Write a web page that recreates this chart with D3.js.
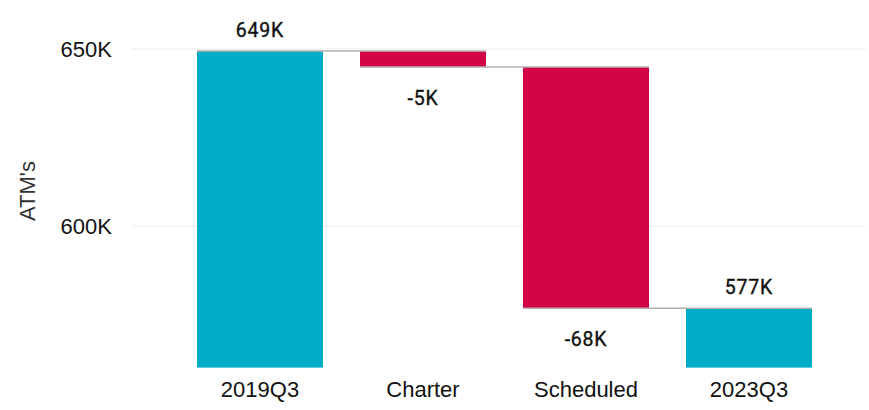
<!DOCTYPE html>
<html><head><meta charset="utf-8">
<script src="https://cdn.jsdelivr.net/npm/d3@7"></script>
<style>body{margin:0;background:#fff}svg{display:block}</style>
</head><body>
<svg id="c" width="869" height="410"></svg>
<script>
const categories = ["2019Q3", "Charter", "Scheduled", "2023Q3"];
const changes = [649.4, -4.5, -68.1, 576.8];
const isTotal = [true, false, false, true];
const labels = ["649K", "-5K", "-68K", "577K"];
const yTicks = [600, 650];

const svg = d3.select("#c");
const x = d3.scaleBand().domain(categories).range([178.5, 830.5]).paddingInner(0.227).paddingOuter(0.1135);
const y = d3.scaleLinear().domain([560, 650]).range([367.6, 49]);

let run = 0;
const bars = categories.map((c, i) => {
  let start, end;
  if (isTotal[i]) { start = y.domain()[0]; end = changes[i]; run = changes[i]; }
  else { start = run; end = run + changes[i]; run = end; }
  return {c, start, end, total: isTotal[i], delta: changes[i], label: labels[i], i};
});

svg.append("g").selectAll("line").data(yTicks).join("line")
  .attr("x1", 132).attr("x2", 866)
  .attr("y1", d => y(d)).attr("y2", d => y(d))
  .attr("stroke", "#ececec").attr("stroke-width", 1);

svg.append("g").selectAll("text").data(yTicks).join("text")
  .attr("x", 112).attr("y", d => y(d)).attr("dy", "0.36em")
  .attr("text-anchor", "end")
  .attr("font-family", "Liberation Sans, Arial, sans-serif").attr("font-size", 22).attr("fill", "#111")
  .text(d => d + "K");

svg.append("text").attr("transform", "translate(35,191) rotate(-90)")
  .attr("text-anchor", "middle")
  .attr("font-family", "Liberation Sans, Arial, sans-serif").attr("font-size", 22).attr("fill", "#333")
  .text("ATM's");

svg.append("g").selectAll("rect").data(bars).join("rect")
  .attr("x", d => x(d.c)).attr("width", x.bandwidth())
  .attr("y", d => y(Math.max(d.start, d.end)))
  .attr("height", d => Math.abs(y(d.start) - y(d.end)))
  .attr("fill", d => d.total ? "#00adc6" : "#d30547");

svg.append("g").selectAll("line").data(bars.slice(0, -1)).join("line")
  .attr("x1", d => x(d.c))
  .attr("x2", d => x(categories[d.i + 1]) + x.bandwidth())
  .attr("y1", d => y(d.end)).attr("y2", d => y(d.end))
  .attr("stroke", "#b4b0ae").attr("stroke-width", 1.5);

svg.append("g").selectAll("text").data(bars).join("text")
  .attr("x", d => x(d.c) + x.bandwidth() / 2)
  .attr("y", d => d.delta < 0 ? y(d.end) + 38 : y(d.end) - 14)
  .attr("text-anchor", "middle")
  .attr("font-family", "Roboto, sans-serif").attr("font-size", 19.5).attr("fill", "#111")
  .attr("stroke", "#111").attr("stroke-width", 0.35)
  .attr("letter-spacing", "0.8px")
  .text(d => d.label);

svg.append("g").selectAll("text").data(categories).join("text")
  .attr("x", d => x(d) + x.bandwidth() / 2).attr("y", 397)
  .attr("text-anchor", "middle")
  .attr("font-family", "Liberation Sans, Arial, sans-serif").attr("font-size", 22).attr("fill", "#111")
  .text(d => d);
</script>
</body></html>
